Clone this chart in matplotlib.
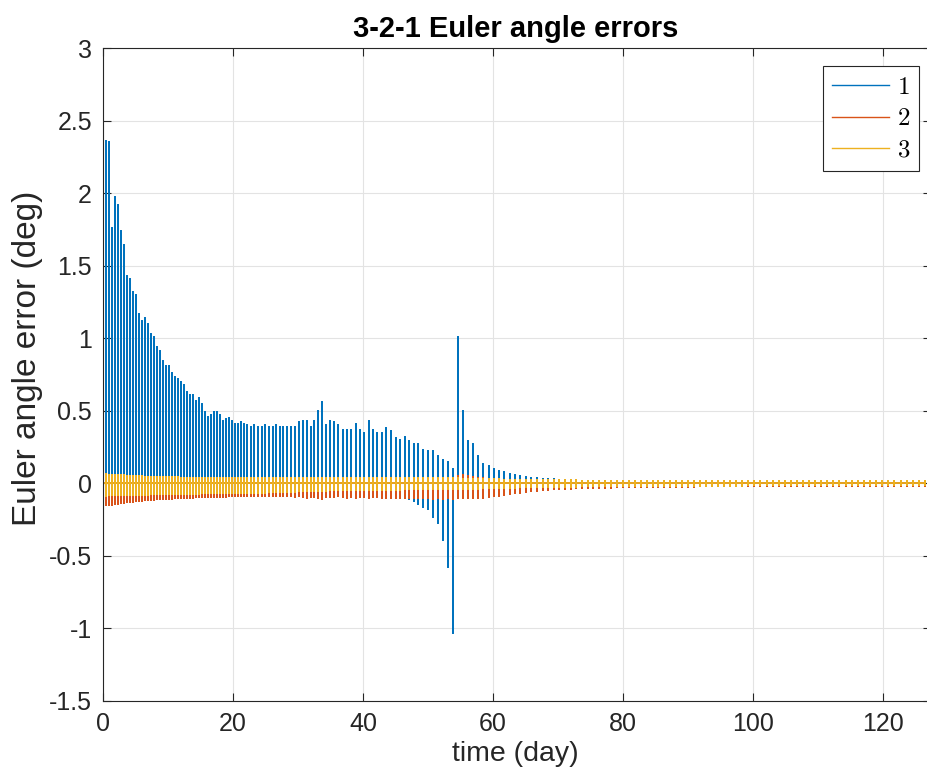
import numpy as np
import matplotlib
matplotlib.use("Agg")
import matplotlib.pyplot as plt

# spike (update) times in days
time_days = [
    0.00, 0.46, 0.92, 1.38, 1.84, 2.30, 2.76, 3.22, 3.68, 4.14,
    4.60, 5.06, 5.52, 5.98, 6.44, 6.90, 7.36, 7.82, 8.28, 8.74,
    9.20, 9.66, 10.12, 10.58, 11.04, 11.50, 11.96, 12.42, 12.88, 13.34,
    13.80, 14.26, 14.72, 15.18, 15.64, 16.10, 16.56, 17.02, 17.48, 17.94,
    18.40, 18.86, 19.32, 19.78, 20.24, 20.70, 21.16, 21.62,
    22.18, 22.74, 23.30, 23.86, 24.42, 24.98, 25.54, 26.10, 26.66,
    27.23, 27.74, 28.26, 28.87, 29.49, 30.10, 30.72, 31.33, 31.95, 32.51,
    33.13, 33.74, 34.36, 34.97, 35.59, 36.21, 36.87, 37.49, 38.15, 38.87,
    39.54, 40.21, 40.87, 41.54, 42.21, 42.87, 43.59, 44.31, 45.03, 45.69,
    46.41, 47.13, 47.79, 48.51, 49.28, 50.05, 50.77, 51.54, 52.31, 53.03,
    53.79, 54.56, 55.33, 56.10, 56.87, 57.69,
    58.51, 59.33, 60.10, 60.92, 61.74, 62.56, 63.38, 64.21, 65.03, 65.90,
    66.77, 67.64, 68.46, 69.33, 70.21, 71.08, 71.95, 72.82, 73.69, 74.56,
    75.44, 76.31, 77.23, 78.10, 79.03, 79.95, 80.87, 81.79, 82.72, 83.64,
    84.56, 85.44, 86.36, 87.28, 88.21, 89.08, 90.00, 90.92, 91.85, 92.78,
    93.71, 94.64, 95.57, 96.50, 97.43, 98.36, 99.29, 100.22, 101.15, 102.08,
    103.01, 103.94, 104.87, 105.80, 106.73, 107.66, 108.60, 109.54, 110.48, 111.42,
    112.36, 113.30, 114.24, 115.18, 116.12, 117.06, 118.00, 118.94, 119.88, 120.82,
    121.76, 122.70, 123.64, 124.58, 125.52, 126.46,
]

# angle 1: positive / negative spike extremes (deg)
err1_hi = [
    2.67, 2.36, 2.35, 1.76, 1.97, 1.92, 1.74, 1.64, 1.43, 1.41,
    1.32, 1.30, 1.17, 1.12, 1.14, 1.10, 1.03, 1.01, 0.94, 0.91,
    0.84, 0.81, 0.81, 0.76, 0.73, 0.72, 0.70, 0.68, 0.63, 0.61,
    0.61, 0.57, 0.59, 0.55, 0.49, 0.46, 0.47, 0.49, 0.49, 0.47,
    0.43, 0.44, 0.45, 0.43, 0.41, 0.41, 0.42, 0.41,
    0.40, 0.39, 0.40, 0.39, 0.39, 0.40, 0.39, 0.39, 0.40,
    0.39, 0.39, 0.39, 0.39, 0.39, 0.42, 0.43, 0.43, 0.39, 0.43,
    0.50, 0.56, 0.40, 0.43, 0.42, 0.40, 0.37, 0.37, 0.37, 0.41,
    0.37, 0.35, 0.43, 0.37, 0.35, 0.35, 0.38, 0.36, 0.31, 0.30,
    0.32, 0.29, 0.27, 0.27, 0.23, 0.22, 0.22, 0.19, 0.16, 0.15,
    0.10, 1.01, 0.50, 0.29, 0.27, 0.19,
    0.13, 0.12, 0.10, 0.085, 0.075, 0.067, 0.055, 0.048, 0.044, 0.040,
    0.035, 0.033, 0.030, 0.028, 0.025, 0.022, 0.020, 0.018, 0.017, 0.016,
    0.015, 0.014, 0.013, 0.012, 0.012, 0.011, 0.011, 0.010, 0.010, 0.010,
    0.010, 0.010, 0.010, 0.010, 0.009, 0.009, 0.009, 0.009, 0.009, 0.009,
    0.009, 0.009, 0.009, 0.009, 0.009, 0.009, 0.009, 0.009, 0.009, 0.009,
    0.009, 0.009, 0.009, 0.009, 0.009, 0.009, 0.009, 0.009, 0.009, 0.009,
    0.009, 0.009, 0.009, 0.009, 0.009, 0.009, 0.009, 0.009, 0.009, 0.009,
    0.009, 0.009, 0.009, 0.009, 0.009, 0.009,
]
err1_lo = [
    0.0, -0.02, -0.02, -0.02, -0.02, -0.02, -0.02, -0.02, -0.02, -0.02,
    -0.02, -0.02, -0.02, -0.02, -0.02, -0.02, -0.02, -0.02, -0.02, -0.02,
    -0.02, -0.02, -0.02, -0.02, -0.02, -0.02, -0.02, -0.02, -0.02, -0.02,
    -0.02, -0.02, -0.02, -0.02, -0.02, -0.02, -0.02, -0.02, -0.02, -0.02,
    -0.02, -0.02, -0.02, -0.02, -0.02, -0.02, -0.02, -0.02,
    -0.03, -0.03, -0.03, -0.03, -0.03, -0.03, -0.03, -0.03, -0.03,
    -0.04, -0.04, -0.045, -0.04, -0.045, -0.04, -0.045, -0.04, -0.045, -0.04,
    -0.045, -0.05, -0.04, -0.045, -0.04, -0.045, -0.04, -0.045, -0.05, -0.045,
    -0.05, -0.045, -0.05, -0.06, -0.07, -0.07, -0.07, -0.08, -0.08, -0.09,
    -0.10, -0.11, -0.12, -0.14, -0.16, -0.18, -0.23, -0.27, -0.39, -0.58,
    -1.03, -0.05, -0.06, -0.05, -0.04, -0.03,
    -0.03, -0.02, -0.015, -0.012, -0.01, -0.01, -0.008, -0.008, -0.007, -0.007,
    -0.006, -0.006, -0.006, -0.005, -0.005, -0.005, -0.005, -0.005, -0.005, -0.005,
    -0.005, -0.005, -0.005, -0.005, -0.005, -0.005, -0.005, -0.005, -0.005, -0.005,
    -0.005, -0.005, -0.005, -0.005, -0.005, -0.005, -0.005, -0.005, -0.005, -0.005,
    -0.005, -0.005, -0.005, -0.005, -0.005, -0.005, -0.005, -0.005, -0.005, -0.005,
    -0.005, -0.005, -0.005, -0.005, -0.005, -0.005, -0.005, -0.005, -0.005, -0.005,
    -0.005, -0.005, -0.005, -0.005, -0.005, -0.005, -0.005, -0.005, -0.005, -0.005,
    -0.005, -0.005, -0.005, -0.005, -0.005, -0.005,
]

# angle 2
err2_hi = [
    0.0, 0.0, 0.0, 0.0, 0.0, 0.0, 0.0, 0.0, 0.0, 0.0,
    0.0, 0.0, 0.0, 0.0, 0.0, 0.0, 0.0, 0.0, 0.0, 0.0,
    0.0, 0.0, 0.0, 0.0, 0.0, 0.0, 0.0, 0.0, 0.0, 0.0,
    0.0, 0.0, 0.0, 0.0, 0.0, 0.0, 0.0, 0.0, 0.0, 0.0,
    0.0, 0.0, 0.0, 0.0, 0.0, 0.0, 0.0, 0.0,
    0.0, 0.0, 0.0, 0.0, 0.0, 0.0, 0.0, 0.0, 0.0,
    0.0, 0.0, 0.0, 0.0, 0.0, 0.0, 0.0, 0.0, 0.0, 0.0,
    0.0, 0.0, 0.0, 0.0, 0.0, 0.0, 0.0, 0.0, 0.0, 0.0,
    0.0, 0.0, 0.0, 0.0, 0.0, 0.0, 0.0, 0.0, 0.0, 0.0,
    0.0, 0.0, 0.0, 0.0, 0.0, 0.0, 0.0, 0.005, 0.01, 0.015,
    0.02, 0.05, 0.055, 0.05, 0.045, 0.04,
    0.035, 0.032, 0.030, 0.028, 0.026, 0.024, 0.022, 0.020, 0.019, 0.018,
    0.017, 0.016, 0.015, 0.014, 0.013, 0.012, 0.011, 0.010, 0.010, 0.010,
    0.010, 0.010, 0.010, 0.010, 0.010, 0.010, 0.010, 0.010, 0.010, 0.010,
    0.010, 0.010, 0.010, 0.010, 0.010, 0.010, 0.010, 0.010, 0.010, 0.010,
    0.010, 0.010, 0.010, 0.010, 0.010, 0.010, 0.010, 0.010, 0.010, 0.010,
    0.010, 0.010, 0.010, 0.010, 0.010, 0.010, 0.010, 0.010, 0.010, 0.010,
    0.010, 0.010, 0.010, 0.010, 0.010, 0.010, 0.010, 0.010, 0.010, 0.010,
    0.010, 0.010, 0.010, 0.010, 0.010, 0.010,
]
err2_lo = [
    -0.140, -0.150, -0.148, -0.146, -0.143, -0.140, -0.137, -0.134, -0.131, -0.128,
    -0.126, -0.124, -0.122, -0.120, -0.118, -0.116, -0.114, -0.112, -0.111, -0.110,
    -0.108, -0.107, -0.106, -0.105, -0.104, -0.103, -0.102, -0.101, -0.100, -0.099,
    -0.098, -0.097, -0.096, -0.095, -0.094, -0.094, -0.093, -0.093, -0.092, -0.092,
    -0.091, -0.091, -0.090, -0.090, -0.089, -0.089, -0.088, -0.088,
    -0.088, -0.087, -0.088, -0.087, -0.087, -0.088, -0.087, -0.087, -0.088,
    -0.088, -0.090, -0.087, -0.089, -0.092, -0.090, -0.095, -0.100, -0.092, -0.095,
    -0.100, -0.105, -0.093, -0.095, -0.092, -0.090, -0.095, -0.098, -0.092, -0.100,
    -0.095, -0.092, -0.100, -0.096, -0.094, -0.098, -0.100, -0.098, -0.102, -0.100,
    -0.098, -0.100, -0.102, -0.100, -0.104, -0.102, -0.105, -0.100, -0.106, -0.103,
    -0.108, -0.100, -0.098, -0.100, -0.102, -0.100,
    -0.100, -0.095, -0.090, -0.085, -0.080, -0.075, -0.070, -0.065, -0.060, -0.055,
    -0.050, -0.047, -0.044, -0.042, -0.040, -0.038, -0.036, -0.034, -0.033, -0.032,
    -0.031, -0.030, -0.030, -0.029, -0.028, -0.027, -0.027, -0.026, -0.026, -0.025,
    -0.025, -0.024, -0.024, -0.023, -0.023, -0.022, -0.022, -0.022, -0.021, -0.021,
    -0.021, -0.021, -0.020, -0.020, -0.020, -0.020, -0.020, -0.020, -0.019, -0.019,
    -0.019, -0.019, -0.019, -0.019, -0.019, -0.019, -0.018, -0.018, -0.018, -0.018,
    -0.018, -0.018, -0.018, -0.018, -0.018, -0.018, -0.018, -0.018, -0.018, -0.018,
    -0.018, -0.018, -0.018, -0.018, -0.018, -0.018,
]

# angle 3
err3_hi = [
    0.065, 0.062, 0.060, 0.058, 0.057, 0.056, 0.055, 0.054, 0.053, 0.052,
    0.051, 0.050, 0.049, 0.048, 0.047, 0.046, 0.045, 0.045, 0.044, 0.044,
    0.043, 0.043, 0.042, 0.042, 0.041, 0.041, 0.040, 0.040, 0.040, 0.039,
    0.039, 0.039, 0.038, 0.038, 0.038, 0.038, 0.037, 0.037, 0.037, 0.037,
    0.037, 0.036, 0.036, 0.036, 0.036, 0.036, 0.036, 0.036,
    0.036, 0.036, 0.036, 0.036, 0.036, 0.036, 0.036, 0.036, 0.036,
    0.036, 0.036, 0.036, 0.036, 0.036, 0.036, 0.036, 0.036, 0.036, 0.036,
    0.035, 0.035, 0.035, 0.035, 0.035, 0.035, 0.035, 0.035, 0.035, 0.035,
    0.035, 0.035, 0.035, 0.035, 0.035, 0.035, 0.035, 0.035, 0.035, 0.035,
    0.034, 0.034, 0.034, 0.034, 0.034, 0.034, 0.034, 0.034, 0.034, 0.034,
    0.034, 0.034, 0.033, 0.033, 0.033, 0.033,
    0.030, 0.029, 0.028, 0.027, 0.026, 0.025, 0.024, 0.024, 0.023, 0.023,
    0.022, 0.022, 0.021, 0.021, 0.020, 0.020, 0.020, 0.020, 0.019, 0.019,
    0.019, 0.019, 0.018, 0.018, 0.018, 0.018, 0.018, 0.018, 0.017, 0.017,
    0.017, 0.017, 0.017, 0.017, 0.017, 0.017, 0.017, 0.017, 0.016, 0.016,
    0.016, 0.016, 0.016, 0.016, 0.016, 0.016, 0.016, 0.016, 0.016, 0.016,
    0.016, 0.016, 0.016, 0.016, 0.016, 0.016, 0.016, 0.016, 0.016, 0.016,
    0.016, 0.016, 0.016, 0.016, 0.016, 0.016, 0.016, 0.016, 0.016, 0.016,
    0.016, 0.016, 0.016, 0.016, 0.016, 0.016,
]
err3_lo = [
    -0.085, -0.084, -0.083, -0.083, -0.082, -0.082, -0.081, -0.081, -0.080, -0.080,
    -0.079, -0.079, -0.078, -0.078, -0.077, -0.077, -0.076, -0.076, -0.075, -0.075,
    -0.075, -0.074, -0.074, -0.074, -0.073, -0.073, -0.073, -0.072, -0.072, -0.072,
    -0.071, -0.071, -0.071, -0.070, -0.070, -0.070, -0.070, -0.069, -0.069, -0.069,
    -0.069, -0.068, -0.068, -0.068, -0.068, -0.068, -0.068, -0.068,
    -0.067, -0.066, -0.066, -0.065, -0.065, -0.064, -0.063, -0.063, -0.062,
    -0.061, -0.060, -0.059, -0.058, -0.057, -0.056, -0.055, -0.054, -0.053, -0.052,
    -0.051, -0.050, -0.050, -0.049, -0.049, -0.048, -0.048, -0.047, -0.047, -0.046,
    -0.046, -0.045, -0.045, -0.045, -0.044, -0.044, -0.044, -0.043, -0.043, -0.043,
    -0.042, -0.042, -0.042, -0.042, -0.041, -0.041, -0.041, -0.041, -0.040, -0.040,
    -0.040, -0.040, -0.040, -0.039, -0.038, -0.037,
    -0.035, -0.034, -0.033, -0.032, -0.031, -0.030, -0.029, -0.028, -0.027, -0.026,
    -0.025, -0.025, -0.024, -0.024, -0.023, -0.023, -0.022, -0.022, -0.021, -0.021,
    -0.020, -0.020, -0.020, -0.019, -0.019, -0.019, -0.018, -0.018, -0.018, -0.017,
    -0.017, -0.017, -0.017, -0.016, -0.016, -0.016, -0.016, -0.016, -0.015, -0.015,
    -0.015, -0.015, -0.015, -0.015, -0.015, -0.015, -0.014, -0.014, -0.014, -0.014,
    -0.014, -0.014, -0.014, -0.014, -0.014, -0.014, -0.014, -0.014, -0.014, -0.014,
    -0.014, -0.014, -0.014, -0.014, -0.014, -0.014, -0.014, -0.014, -0.014, -0.014,
    -0.014, -0.014, -0.014, -0.014, -0.014, -0.014,
]

series_labels = ["$1$", "$2$", "$3$"]
series_colors = ["#0072BD", "#D95319", "#EDB120"]

x_ticks = [0, 20, 40, 60, 80, 100, 120]
y_ticks = [-1.5, -1, -0.5, 0, 0.5, 1, 1.5, 2, 2.5, 3]
y_tick_labels = ["-1.5", "-1", "-0.5", "0", "0.5", "1", "1.5", "2", "2.5", "3"]


def spike_path(t, hi, lo):
    # each update: baseline -> positive peak -> negative peak -> baseline
    t = np.asarray(t)
    x = np.repeat(t, 4)
    y = np.column_stack([np.zeros(len(t)), hi, lo, np.zeros(len(t))]).ravel()
    return x, y


def main():
    plt.rcParams["font.family"] = ["Liberation Sans", "DejaVu Sans"]
    plt.rcParams["mathtext.fontset"] = "cm"
    dark = "#262626"

    fig = plt.figure(figsize=(9.28, 7.82), dpi=100)
    # axes box in pixels; the right edge sits just past the image border
    left, right, top, bottom = 103, 931, 48, 701
    width, height = right - left, bottom - top
    ax = fig.add_axes([left / 928, (782 - bottom) / 782, width / 928, height / 782])

    for hi, lo, lab, col in zip([err1_hi, err2_hi, err3_hi],
                                [err1_lo, err2_lo, err3_lo],
                                series_labels, series_colors):
        x, y = spike_path(time_days, hi, lo)
        ax.plot(x, y, color=col, lw=1.2, label=lab)

    ax.set_xlim(0, width / 6.5)
    ax.set_ylim(-1.5, 3)
    ax.set_xticks(x_ticks)
    ax.set_yticks(y_ticks)
    ax.set_yticklabels(y_tick_labels)
    ax.grid(True, color="#e3e3e3", lw=0.8)
    ax.set_axisbelow(True)

    ax.tick_params(direction="in", length=6, width=0.8, colors=dark,
                   labelsize=18, top=True, right=True, pad=8)
    for sp in ax.spines.values():
        sp.set_color(dark)
        sp.set_linewidth(0.8)

    mid_x = (515.5 - left) / width
    ax.set_xlabel("time (day)", fontsize=20.5, color=dark)
    ax.xaxis.set_label_coords(mid_x, -(741 - bottom) / height)
    ax.set_ylabel("Euler angle error (deg)", fontsize=24, color=dark)
    ax.yaxis.set_label_coords(-(left - 43) / width, (bottom - 358) / height)
    ax.set_title("3-2-1 Euler angle errors", fontsize=21, fontweight="bold",
                 color="black", pad=8, x=mid_x)

    leg = ax.legend(loc="upper right",
                    bbox_to_anchor=((919 - left) / width, (bottom - 66) / height),
                    borderaxespad=0, fontsize=18, fancybox=False, framealpha=1,
                    edgecolor=dark, handlelength=2.3, handletextpad=0.3,
                    labelspacing=0.3, borderpad=0.35)
    leg.get_frame().set_linewidth(0.8)
    for line in leg.get_lines():
        line.set_linewidth(1.0)

    fig.savefig("out.png", dpi=100)
    plt.close(fig)


if __name__ == "__main__":
    main()
